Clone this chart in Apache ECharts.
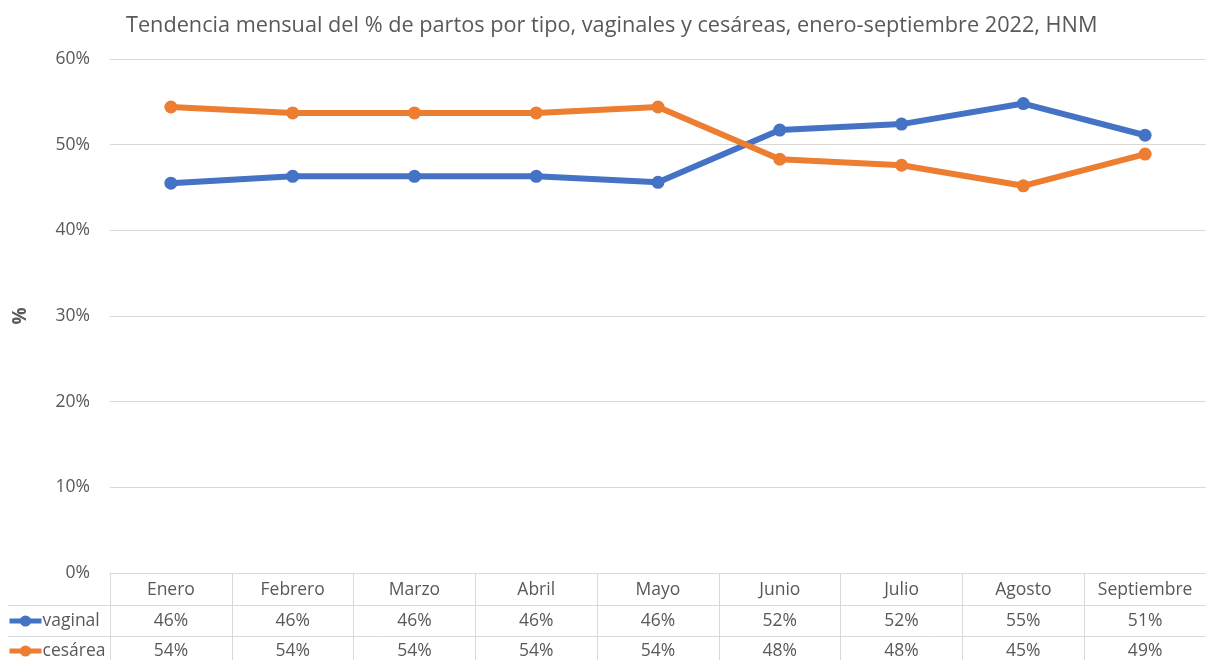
<!DOCTYPE html>
<html><head><meta charset="utf-8">
<script src="https://cdn.jsdelivr.net/npm/echarts@6/dist/echarts.min.js"></script>
<style>html,body{margin:0;padding:0;background:#fff}#c{width:1206px;height:660px}</style>
</head><body><div id="c"></div>
<script>
const months = ['Enero','Febrero','Marzo','Abril','Mayo','Junio','Julio','Agosto','Septiembre'];
const vaginal = [45.5, 46.3, 46.3, 46.3, 45.6, 51.7, 52.4, 54.8, 51.1];
const cesarea = [54.4, 53.7, 53.7, 53.7, 54.4, 48.3, 47.6, 45.2, 48.9];
const yTicks = [0, 10, 20, 30, 40, 50, 60];
const seriesNames = ['vaginal', 'cesárea'];
const colors = ['#4472C4', '#ED7D31'];

const FONT = 'Open Sans';
const TXT = '#595959';
const LINE = '#d9d9d9';
const FS = 17.5;
const pct = v => Math.round(v) + '%';

const chart = echarts.init(document.getElementById('c'));
const tableAxis = (data, offset, margin) => ({
  type: 'category', data: data, position: 'bottom', offset: offset, gridIndex: 0,
  axisLine: {show: true, lineStyle: {color: LINE, width: 1}},
  axisTick: {show: false},
  axisLabel: {interval: 0, color: TXT, fontSize: FS, fontFamily: FONT, margin: margin}
});
const legendFor = (name, top) => ({
  orient: 'horizontal', left: 2, top: top, itemWidth: 32, itemHeight: 14,
  lineStyle: {width: 5},
  textStyle: {color: TXT, fontSize: FS, fontFamily: FONT, padding: [0, 0, 0, -4]},
  data: [name]
});
chart.setOption({
  animation: false,
  color: colors,
  title: {
    text: 'Tendencia mensual del % de partos por tipo, vaginales y cesáreas, enero-septiembre 2022, HNM',
    left: 121, top: 10,
    textStyle: {color: TXT, fontSize: 21.7, fontWeight: 'normal', fontFamily: FONT}
  },
  legend: [legendFor(seriesNames[0], 607), legendFor(seriesNames[1], 637)],
  grid: {left: 110, right: 0, top: 59, bottom: 87, containLabel: false},
  xAxis: [
    {
      type: 'category', data: months, position: 'bottom', boundaryGap: true,
      axisLine: {show: true, lineStyle: {color: LINE, width: 1}},
      axisTick: {show: true, length: 90, interval: 0, lineStyle: {color: LINE, width: 1}},
      axisLabel: {interval: 0, color: TXT, fontSize: FS, fontFamily: FONT, margin: 8}
    },
    tableAxis(vaginal.map(pct), 32, 7),
    tableAxis(cesarea.map(pct), 63, 6)
  ],
  yAxis: {
    type: 'value', min: 0, max: 60, interval: 10,
    name: '%', nameLocation: 'middle', nameGap: 80, nameRotate: 90,
    nameTextStyle: {color: TXT, fontSize: 19, fontWeight: 'bold', fontFamily: FONT},
    axisLine: {show: false}, axisTick: {show: false},
    axisLabel: {formatter: '{value}%', color: TXT, fontSize: FS, fontFamily: FONT, margin: 20},
    splitLine: {lineStyle: {color: LINE, width: 1}}
  },
  series: [
    {name: seriesNames[0], type: 'line', data: vaginal, symbol: 'circle', symbolSize: 13,
     lineStyle: {width: 6}, itemStyle: {color: colors[0]}},
    {name: seriesNames[1], type: 'line', data: cesarea, symbol: 'circle', symbolSize: 13,
     lineStyle: {width: 6}, itemStyle: {color: colors[1]}}
  ],
  graphic: [
    {type: 'line', shape: {x1: 8, y1: 605.5, x2: 110, y2: 605.5}, style: {stroke: LINE, lineWidth: 1}},
    {type: 'line', shape: {x1: 8, y1: 636.5, x2: 110, y2: 636.5}, style: {stroke: LINE, lineWidth: 1}}
  ]
});
</script></body></html>
